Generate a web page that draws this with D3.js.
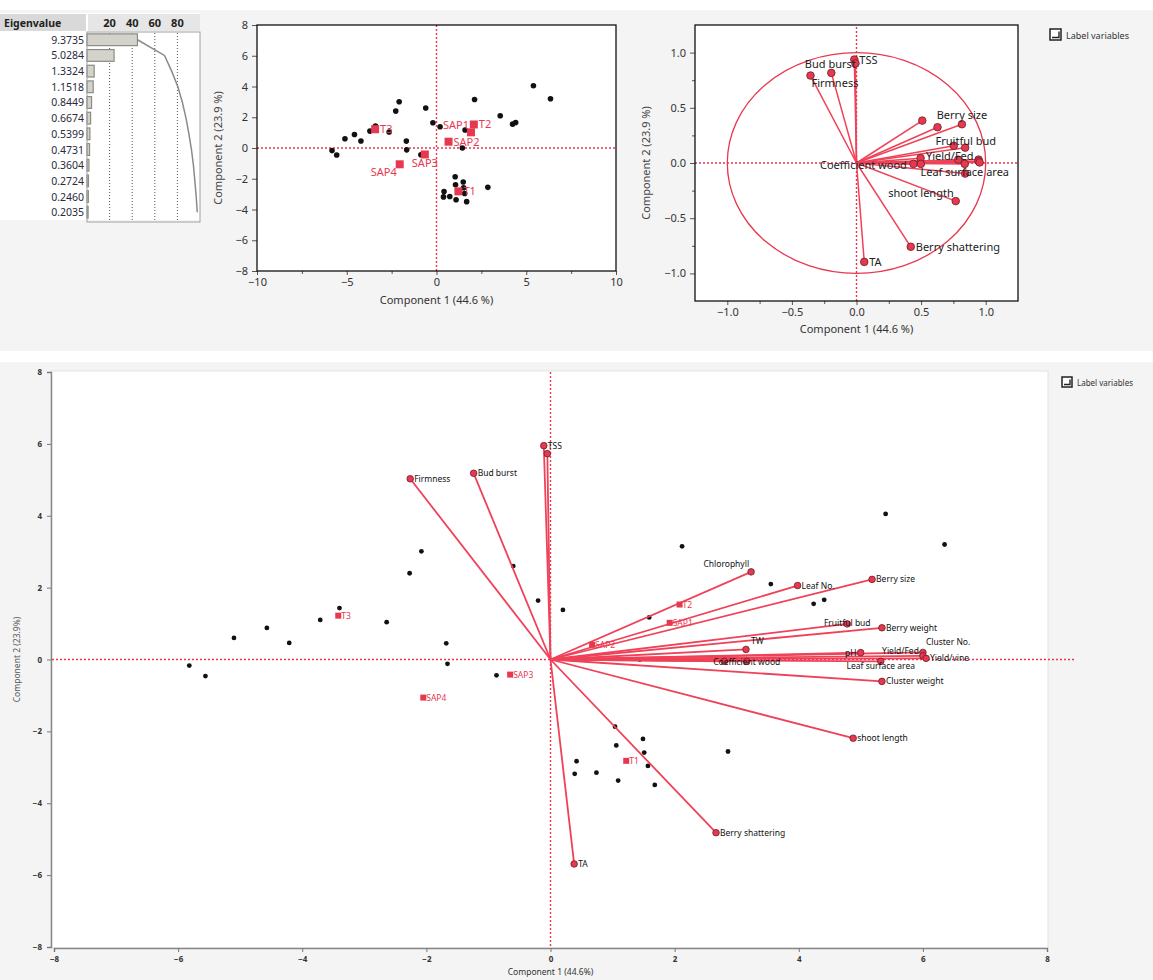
<!DOCTYPE html>
<html>
<head>
<meta charset="utf-8">
<script src="https://cdn.jsdelivr.net/npm/d3@7"></script>
<style>
  body { margin: 0; background: #fff; font-family: "Noto Sans", sans-serif; }
</style>
</head>
<body>
<script>
/* DATA */
// eigenvalues shown in the table (21 variables in total)
const eigenvalues = [9.3735, 5.0284, 1.3324, 1.1518, 0.8449, 0.6674, 0.5399, 0.4731, 0.3604, 0.2724, 0.2460, 0.2035];
const pctTicks = [20, 40, 60, 80];
const pct1 = 44.6, pct2 = 23.9;

// sample scores
const scorePC1 = [-5.82, -5.56, -5.10, -4.57, -4.21, -3.71, -3.40, -2.64, -2.27, -2.08, -1.68, -1.66,
  -0.87, -0.60, -0.20, 0.20, 1.59, 1.44, 2.12, 3.55, 4.24, 4.41, 5.40, 6.35,
  1.04, 1.49, 1.06, 1.51, 2.86, 0.42, 1.57, 0.39, 0.74, 1.09, 1.68];
const scorePC2 = [-0.17, -0.46, 0.60, 0.88, 0.46, 1.10, 1.43, 1.04, 2.40, 3.01, 0.45, -0.12,
  -0.44, 2.60, 1.64, 1.38, 1.17, 0.00, 3.15, 2.10, 1.55, 1.66, 4.05, 3.20,
  -1.87, -2.21, -2.39, -2.59, -2.56, -2.83, -2.96, -3.18, -3.15, -3.37, -3.49];

// treatment means
const groupNames = ["T1", "T2", "T3", "SAP1", "SAP2", "SAP3", "SAP4"];
const groupPC1 = [1.22, 2.08, -3.42, 1.92, 0.67, -0.65, -2.05];
const groupPC2 = [-2.82, 1.53, 1.22, 1.02, 0.41, -0.42, -1.06];

// variable loadings
const varNames = ["TSS", "", "Firmness", "Bud burst", "TA", "Berry shattering", "shoot length",
  "Chlorophyll", "Leaf No.", "Berry size", "Fruitful bud", "Berry weight", "TW", "pH",
  "Yield/Fed", "Cluster No.", "Yield/vine", "Leaf surface area", "Coefficient wood",
  "Cluster weight", " "];
const varPC1 = [-0.017, -0.008, -0.356, -0.195, 0.060, 0.420, 0.768,
  0.509, 0.627, 0.816, 0.753, 0.841, 0.496, 0.787,
  0.945, 0.945, 0.953, 0.838, 0.498, 0.841, 0.441];
const varPC2 = [0.937, 0.902, 0.792, 0.816, -0.896, -0.759, -0.345,
  0.384, 0.324, 0.351, 0.156, 0.139, 0.044, 0.030,
  0.031, 0.016, 0.005, -0.008, -0.008, -0.096, -0.008];
const biplotScale = 6.35;

const scores = scorePC1.map((d, i) => ({x: d, y: scorePC2[i]}));
const groups = groupNames.map((n, i) => ({name: n, x: groupPC1[i], y: groupPC2[i]}));
const vars = varNames.map((n, i) => ({name: n, x: varPC1[i], y: varPC2[i]}));

const red = "#e8384f";
const lineRed = "#ef4258";

const svg = d3.select("body").append("svg")
  .attr("width", 1153).attr("height", 980)
  .style("display", "block");

// panel backgrounds
svg.append("rect").attr("x", 0).attr("y", 10).attr("width", 1153).attr("height", 341).attr("fill", "#f4f4f4");
svg.append("rect").attr("x", 0).attr("y", 362).attr("width", 1153).attr("height", 618).attr("fill", "#f4f4f4");

/* EIGENVALUE TABLE */
const eig = svg.append("g");
const ex = d3.scaleLinear().domain([0, 100]).range([87, 200]);
const ey = d3.scaleBand().domain(d3.range(eigenvalues.length)).range([32, 220]).paddingInner(0.25).paddingOuter(0.12);
const nVar = varNames.length;
const pct = eigenvalues.map(d => d / nVar * 100);
const cum = d3.cumsum(pct);

eig.append("rect").attr("x", 0).attr("y", 13).attr("width", 200).attr("height", 207).attr("fill", "#fff");
eig.append("rect").attr("x", 0).attr("y", 14).attr("width", 86).attr("height", 17).attr("fill", "#d9d9d9");
eig.append("rect").attr("x", 88).attr("y", 14).attr("width", 112).attr("height", 17).attr("fill", "#e6e6e6");
eig.append("text").attr("x", 4).attr("y", 26.5).attr("font-size", 10.5).attr("font-weight", "bold")
  .attr("fill", "#222").text("Eigenvalue");
eig.selectAll(".pt").data(pctTicks).join("text")
  .attr("x", d => ex(d)).attr("y", 27).attr("text-anchor", "middle")
  .attr("font-size", 11).attr("font-weight", "bold").attr("fill", "#222").text(d => d);

eig.selectAll(".grid").data(pctTicks).join("line")
  .attr("x1", d => ex(d)).attr("x2", d => ex(d)).attr("y1", 33).attr("y2", 220)
  .attr("stroke", "#555").attr("stroke-dasharray", "1,2");

eig.selectAll(".bar").data(pct).join("rect")
  .attr("x", ex(0)).attr("y", (d, i) => ey(i))
  .attr("width", d => ex(d) - ex(0)).attr("height", ey.bandwidth())
  .attr("fill", "#d3d3cb").attr("stroke", "#8c8c84").attr("stroke-width", 1.2);

eig.append("path").datum(cum)
  .attr("d", d3.line().x(d => ex(d)).y((d, i) => ey(i) + ey.bandwidth() / 2))
  .attr("fill", "none").attr("stroke", "#8a8a8a").attr("stroke-width", 1.5);

eig.append("rect").attr("x", 87).attr("y", 32).attr("width", 113).attr("height", 190)
  .attr("fill", "none").attr("stroke", "#a0a0a0");

eig.selectAll(".ev").data(eigenvalues).join("text")
  .attr("x", 84).attr("y", (d, i) => ey(i) + ey.bandwidth() / 2 + 4)
  .attr("text-anchor", "end").attr("font-size", 10.5).attr("fill", "#2a2a3a")
  .text(d => d.toFixed(4));

/* helper for framed plots */
function framedAxes(g, x, y, xt, xminor, yt, yminor, fmt, xlab, ylab, xlabY, ylabX, fs) {
  const [x0, x1] = x.range(), [y0, y1] = y.range();
  g.append("rect").attr("x", x0).attr("y", y1).attr("width", x1 - x0).attr("height", y0 - y1).attr("fill", "#fff");
  const xa = g.append("g").attr("transform", `translate(0,${y0})`)
    .call(d3.axisBottom(x).tickValues(xt).tickSize(4).tickPadding(3).tickFormat(fmt));
  const xm = g.append("g").attr("transform", `translate(0,${y0})`)
    .call(d3.axisBottom(x).tickValues(xminor).tickSize(3).tickFormat(""));
  const ya = g.append("g").attr("transform", `translate(${x0},0)`)
    .call(d3.axisLeft(y).tickValues(yt).tickSize(5).tickPadding(4).tickFormat(fmt));
  const ym = g.append("g").attr("transform", `translate(${x0},0)`)
    .call(d3.axisLeft(y).tickValues(yminor).tickSize(3).tickFormat(""));
  [xa, xm, ya, ym].forEach(a => {
    a.select(".domain").remove();
    a.selectAll("line").attr("stroke", "#555");
    a.selectAll("text").attr("fill", "#333").attr("font-size", fs).attr("font-family", "Noto Sans");
  });
  g.append("text").attr("x", (x0 + x1) / 2).attr("y", xlabY).attr("text-anchor", "middle")
    .attr("font-size", fs).attr("fill", "#333").text(xlab);
  g.append("text").attr("transform", `translate(${ylabX},${(y0 + y1) / 2}) rotate(-90)`)
    .attr("text-anchor", "middle").attr("font-size", fs).attr("fill", "#444").text(ylab);
}

function zeroLines(g, x, y, w) {
  g.append("line").attr("x1", x.range()[0]).attr("x2", x.range()[1]).attr("y1", y(0)).attr("y2", y(0))
    .attr("stroke", red).attr("stroke-width", w).attr("stroke-dasharray", "2,2");
  g.append("line").attr("x1", x(0)).attr("x2", x(0)).attr("y1", y.range()[0]).attr("y2", y.range()[1])
    .attr("stroke", red).attr("stroke-width", w).attr("stroke-dasharray", "2,2");
}

/* SCORE PLOT */
const sg = svg.append("g");
const sx = d3.scaleLinear().domain([-10, 10]).range([257, 616]);
const sy = d3.scaleLinear().domain([-8, 8]).range([271, 25]);
framedAxes(sg, sx, sy, [-10, -5, 0, 5, 10], [-7.5, -2.5, 2.5, 7.5], d3.range(-8, 9, 2), [],
  d3.format("d"), `Component 1  (${pct1} %)`, `Component 2  (${pct2} %)`, 304, 222, 11);
zeroLines(sg, sx, sy, 1.4);
sg.append("rect").attr("x", 257).attr("y", 25).attr("width", 359).attr("height", 246)
  .attr("fill", "none").attr("stroke", "#111").attr("stroke-width", 1.3);
sg.selectAll(".dot").data(scores).join("circle")
  .attr("cx", d => sx(d.x)).attr("cy", d => sy(d.y)).attr("r", 2.8).attr("fill", "#111");
sg.selectAll(".sq").data(groups).join("rect")
  .attr("x", d => sx(d.x) - 4).attr("y", d => sy(d.y) - 4).attr("width", 8).attr("height", 8).attr("fill", red);
const topGroupLab = {
  T1: ["start", 5, 4], T2: ["start", 5, 4], T3: ["start", 5, 4],
  SAP1: ["end", -2, -3], SAP2: ["start", 5, 4], SAP3: ["middle", 0, 13], SAP4: ["end", -3, 12]
};
sg.selectAll(".gl").data(groups).join("text")
  .attr("x", d => sx(d.x) + topGroupLab[d.name][1]).attr("y", d => sy(d.y) + topGroupLab[d.name][2])
  .attr("text-anchor", d => topGroupLab[d.name][0])
  .attr("font-size", 11).attr("fill", red).text(d => d.name);

/* LOADING PLOT */
const lg = svg.append("g");
const lx = d3.scaleLinear().domain([-1.25, 1.25]).range([695, 1018]);
const ly = d3.scaleLinear().domain([-1.25, 1.25]).range([301, 25]);
framedAxes(lg, lx, ly, [-1, -0.5, 0, 0.5, 1], [-0.75, -0.25, 0.25, 0.75], [-1, -0.5, 0, 0.5, 1],
  [-0.75, -0.25, 0.25, 0.75], d3.format(".1f"), `Component 1  (${pct1} %)`, `Component 2  (${pct2} %)`, 333, 650, 11);
zeroLines(lg, lx, ly, 1.4);
lg.append("ellipse").attr("cx", lx(0)).attr("cy", ly(0))
  .attr("rx", lx(1) - lx(0)).attr("ry", ly(0) - ly(1))
  .attr("fill", "none").attr("stroke", red).attr("stroke-width", 1.3);
lg.append("rect").attr("x", 695).attr("y", 25).attr("width", 323).attr("height", 276)
  .attr("fill", "none").attr("stroke", "#111").attr("stroke-width", 1.3);
lg.selectAll(".vec").data(vars).join("line")
  .attr("x1", lx(0)).attr("y1", ly(0)).attr("x2", d => lx(d.x)).attr("y2", d => ly(d.y))
  .attr("stroke", lineRed).attr("stroke-width", 1.5);
lg.selectAll(".vm").data(vars).join("circle")
  .attr("cx", d => lx(d.x)).attr("cy", d => ly(d.y)).attr("r", 3.8)
  .attr("fill", red).attr("stroke", "#6a1f2a").attr("stroke-width", 0.8);
const topVarLab = {
  "TSS": ["start", 5, 4], "Firmness": ["start", 1, 11], "Bud burst": ["middle", -1, -5],
  "Berry size": ["middle", 0, -5], "Fruitful bud": ["middle", 12, -1], "Yield/Fed": ["end", -5, 0],
  "Coefficient wood": ["end", -14, 5], "Leaf surface area": ["middle", 0, 12],
  "shoot length": ["end", -2, -4], "Berry shattering": ["start", 5, 4], "TA": ["start", 5, 4]
};
lg.selectAll(".vl").data(vars.filter(d => topVarLab[d.name])).join("text")
  .attr("x", d => lx(d.x) + topVarLab[d.name][1]).attr("y", d => ly(d.y) + topVarLab[d.name][2])
  .attr("text-anchor", d => topVarLab[d.name][0])
  .attr("font-size", 11).attr("fill", "#222").text(d => d.name);

function checkbox(x, y, s, fs) {
  const g = svg.append("g");
  g.append("rect").attr("x", x).attr("y", y).attr("width", s).attr("height", s)
    .attr("fill", "#fff").attr("stroke", "#222").attr("stroke-width", 1.5);
  g.append("path").attr("d", `M${x + 2},${y + s - 2.5} L${x + s - 2},${y + s - 2.5} L${x + s - 2},${y + 2.5}`)
    .attr("fill", "none").attr("stroke", "#222").attr("stroke-width", 1.4);
  g.append("text").attr("x", x + s + 5).attr("y", y + s - 1).attr("font-size", fs).attr("fill", "#333")
    .text("Label variables");
}
checkbox(1050, 29, 11, 9);

/* BIPLOT */
const bg = svg.append("g");
const bx = d3.scaleLinear().domain([-8, 8]).range([54, 1047]);
const by = d3.scaleLinear().domain([-8, 8]).range([947, 372]);
bg.append("rect").attr("x", 51).attr("y", 371).attr("width", 997).attr("height", 577).attr("fill", "#fff")
  .attr("stroke", "#e2e2e2");
const bxa = bg.append("g").attr("transform", "translate(0,948)")
  .call(d3.axisBottom(bx).tickValues(d3.range(-8, 9, 2)).tickSize(4).tickPadding(4));
const bya = bg.append("g").attr("transform", "translate(51,0)")
  .call(d3.axisLeft(by).tickValues(d3.range(-8, 9, 2)).tickSize(4).tickPadding(5));
[bxa, bya].forEach(a => {
  a.select(".domain").attr("stroke", "#888").attr("stroke-width", 1.5);
  a.selectAll("line").attr("stroke", "#777");
  a.selectAll("text").attr("fill", "#333").attr("font-size", 8).attr("font-weight", "bold")
    .attr("font-family", "Noto Sans");
});
bg.append("text").attr("x", bx(0)).attr("y", 975).attr("text-anchor", "middle")
  .attr("font-size", 8.5).attr("fill", "#333").text(`Component 1  (${pct1}%)`);
bg.append("text").attr("transform", `translate(20,${by(0)}) rotate(-90)`).attr("text-anchor", "middle")
  .attr("font-size", 8.5).attr("fill", "#555").text(`Component 2  (${pct2}%)`);

bg.append("line").attr("x1", 52).attr("x2", 1075).attr("y1", by(0)).attr("y2", by(0))
  .attr("stroke", red).attr("stroke-width", 1.4).attr("stroke-dasharray", "2,2");
bg.append("line").attr("x1", bx(0)).attr("x2", bx(0)).attr("y1", 372).attr("y2", 947)
  .attr("stroke", red).attr("stroke-width", 1.4).attr("stroke-dasharray", "2,2");

bg.selectAll(".dot").data(scores).join("circle")
  .attr("cx", d => bx(d.x)).attr("cy", d => by(d.y)).attr("r", 2.4).attr("fill", "#111");

bg.selectAll(".vec").data(vars).join("line")
  .attr("x1", bx(0)).attr("y1", by(0))
  .attr("x2", d => bx(d.x * biplotScale)).attr("y2", d => by(d.y * biplotScale))
  .attr("stroke", lineRed).attr("stroke-width", 1.8);
bg.selectAll(".vm").data(vars).join("circle")
  .attr("cx", d => bx(d.x * biplotScale)).attr("cy", d => by(d.y * biplotScale)).attr("r", 3.3)
  .attr("fill", red).attr("stroke", "#6a1f2a").attr("stroke-width", 0.8);

bg.selectAll(".sq").data(groups).join("rect")
  .attr("x", d => bx(d.x) - 3).attr("y", d => by(d.y) - 3).attr("width", 6).attr("height", 6).attr("fill", red);
bg.selectAll(".gl").data(groups).join("text")
  .attr("x", d => bx(d.x) + 3).attr("y", d => by(d.y) + 3)
  .attr("font-size", 8.5).attr("fill", red).text(d => d.name);

const botVarLab = {
  "Chlorophyll": ["end", -2, -5], "Fruitful bud": ["middle", 0, 2], "TW": ["start", 5, -5],
  "pH": ["end", -4, 3], "Yield/Fed": ["end", -4, 2], "Cluster No.": ["start", 3, -11],
  "Leaf surface area": ["middle", 0, 8], "Coefficient wood": ["middle", 0, 4]
};
bg.selectAll(".vl").data(vars.filter(d => d.name.trim() !== "")).join("text")
  .attr("x", d => bx(d.x * biplotScale) + (botVarLab[d.name] ? botVarLab[d.name][1] : 4))
  .attr("y", d => by(d.y * biplotScale) + (botVarLab[d.name] ? botVarLab[d.name][2] : 3))
  .attr("text-anchor", d => botVarLab[d.name] ? botVarLab[d.name][0] : "start")
  .attr("font-size", 8.5).attr("fill", "#111").text(d => d.name);

checkbox(1062, 377, 10, 8);
</script>
</body>
</html>
